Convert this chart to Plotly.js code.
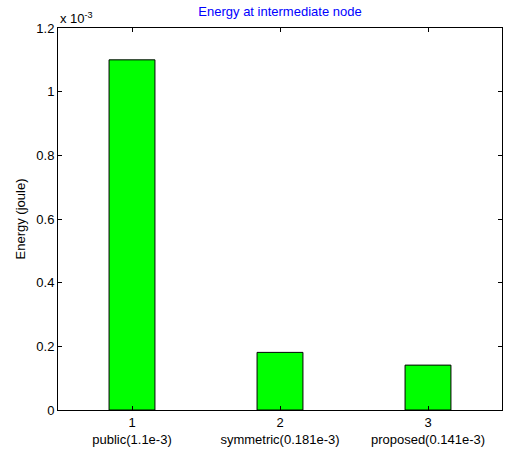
<!DOCTYPE html>
<html>
<head>
<meta charset="utf-8">
<script src="https://cdn.plot.ly/plotly-3.0.1.min.js"></script>
<style>html,body{margin:0;padding:0;background:#fff;}#chart{width:522px;height:450px;}</style>
</head>
<body>
<div id="chart"></div>
<script>
// Data (energy in joules)
var positions = [1, 2, 3];
var categoryNames = ['public(1.1e-3)', 'symmetric(0.181e-3)', 'proposed(0.141e-3)'];
var energyJoule = [1.1e-3, 0.181e-3, 0.141e-3];
var yTickValues = [0, 0.2, 0.4, 0.6, 0.8, 1, 1.2];
var yTickLabels = ['0', '0.2', '0.4', '0.6', '0.8', '1', '1.2'];
var scale = 1e-3;

var font = 'Liberation Sans, Arial, sans-serif';
var trace = {
  type: 'bar',
  x: positions,
  y: energyJoule.map(function(v){ return v / scale; }),
  width: 0.31,
  marker: {color: '#00ff00', line: {color: '#000000', width: 1}},
  hoverinfo: 'none'
};

var layout = {
  width: 522, height: 450,
  margin: {l: 58, r: 20, t: 28, b: 40, pad: 0},
  paper_bgcolor: '#ffffff', plot_bgcolor: '#ffffff',
  showlegend: false,
  font: {family: font, size: 13, color: '#000'},
  title: {text: 'Energy at intermediate node', font: {family: font, size: 13, color: '#0000ff'},
          x: 0.5, xref: 'paper', y: 0.985, yref: 'container', yanchor: 'top'},
  xaxis: {
    range: [0.5, 3.5], tickvals: positions,
    ticktext: positions.map(function(p, i){ return p + '<br>' + categoryNames[i]; }),
    ticks: 'inside', ticklen: 4, tickcolor: '#000', tickwidth: 1,
    showline: true, linecolor: '#000', linewidth: 1, mirror: 'ticks',
    showgrid: false, zeroline: false, tickfont: {family: font, size: 13}
  },
  yaxis: {
    range: [0, 1.2], tickvals: yTickValues, ticktext: yTickLabels,
    ticks: 'inside', ticklen: 4, tickcolor: '#000', tickwidth: 1,
    showline: true, linecolor: '#000', linewidth: 1, mirror: 'ticks',
    showgrid: false, zeroline: false, tickfont: {family: font, size: 13},
    title: {text: 'Energy (joule)', font: {family: font, size: 13}, standoff: 7}
  },
  annotations: [{
    text: 'x 10<sup>-3</sup>', xref: 'paper', yref: 'paper', x: 0, y: 1,
    xanchor: 'left', yanchor: 'bottom', showarrow: false,
    font: {family: font, size: 13}, yshift: 0
  }]
};

Plotly.newPlot('chart', [trace], layout, {displayModeBar: false, staticPlot: true});
</script>
</body>
</html>
